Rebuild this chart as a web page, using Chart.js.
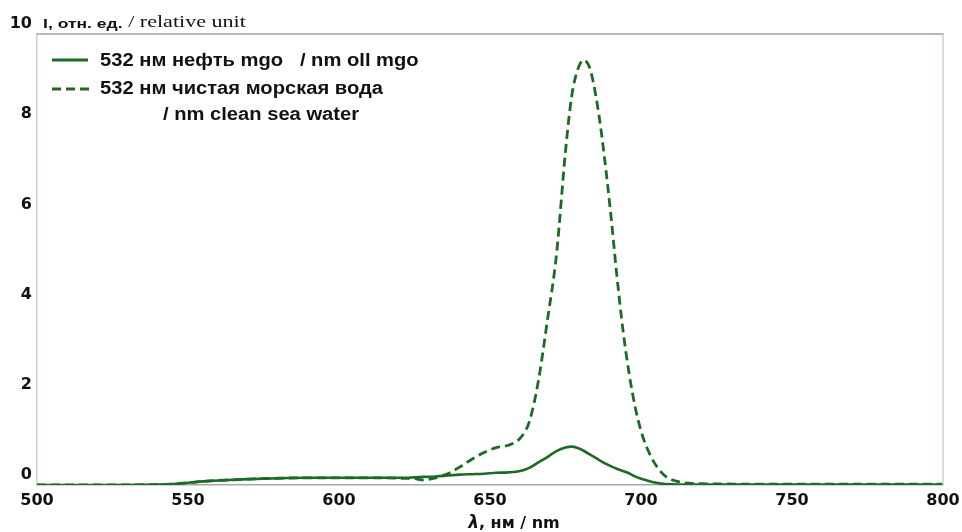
<!DOCTYPE html>
<html>
<head>
<meta charset="utf-8">
<script src="https://cdn.jsdelivr.net/npm/chart.js@4/dist/chart.umd.min.js"></script>
<style>
html,body{margin:0;padding:0;background:#fff;}
#wrap{width:962px;height:532px;position:relative;}
</style>
</head>
<body>
<div id="wrap"><canvas id="c" width="962" height="532"></canvas></div>
<script>
// ---- data ----
const wavelengths = [500,520,540,545,550,555,560,570,580,590,600,610,620,625,628,632,636,640,644,648,652,656,660,663,666,669,672,675,677,679,681,683,685,687,690,692,694,696,698,700,702,705,708,712,716,720,740,760,780,800];
const oilMgo = [0,0,0.01,0.02,0.05,0.08,0.10,0.13,0.15,0.16,0.16,0.16,0.16,0.17,0.18,0.19,0.21,0.23,0.24,0.25,0.27,0.28,0.31,0.38,0.50,0.62,0.75,0.83,0.85,0.82,0.76,0.68,0.60,0.52,0.42,0.36,0.31,0.26,0.19,0.14,0.10,0.05,0.02,0.01,0.01,0.01,0.01,0.01,0.01,0.01];
const cleanSeaWater = [0,0,0.01,0.02,0.05,0.08,0.10,0.13,0.15,0.16,0.16,0.16,0.15,0.14,0.11,0.16,0.25,0.40,0.57,0.72,0.83,0.88,1.04,1.40,2.30,3.65,5.10,7.40,8.60,9.20,9.42,9.25,8.65,7.75,6.00,4.65,3.45,2.50,1.75,1.20,0.82,0.43,0.20,0.08,0.04,0.03,0.02,0.02,0.02,0.02];
const xTicks = [500,550,600,650,700,750,800];
const yTicks = [0,2,4,6,8,10];
const seriesLabels = ["532 нм нефть mgo   / nm oll mgo", "532 нм чистая морская вода", "/ nm clean sea water"];
const xTitle = ["λ", ", нм / nm"];
const yTitle = ["I, отн. ед.", " / relative unit"];

const GREEN = '#1c6b24';

const pts = (ys) => wavelengths.map((x,i)=>({x:x,y:ys[i]}));

function stretchText(ctx, text, x, y, sx){
  ctx.save();
  ctx.translate(x, y);
  ctx.scale(sx, 1);
  ctx.fillText(text, 0, 0);
  const w = ctx.measureText(text).width * sx;
  ctx.restore();
  return w;
}

const decor = {
  id:'decor',
  afterDraw(chart){
    const ctx = chart.ctx, a = chart.chartArea;
    ctx.save();
    // frame top and right
    ctx.strokeStyle = '#a0a0a0'; ctx.lineWidth = 1.5;
    ctx.beginPath(); ctx.moveTo(a.left, a.top); ctx.lineTo(a.right+1, a.top); ctx.stroke();
    ctx.strokeStyle = '#c3dcc3';
    ctx.beginPath(); ctx.moveTo(a.right, a.top); ctx.lineTo(a.right, a.bottom); ctx.stroke();
    // y title
    ctx.fillStyle = '#111'; ctx.textBaseline = 'alphabetic'; ctx.textAlign='left';
    ctx.font = 'bold 13px "Liberation Sans", Arial, sans-serif';
    let w = stretchText(ctx, yTitle[0], 43, 28, 1.35);
    ctx.font = '16px "Liberation Serif", "Times New Roman", serif';
    stretchText(ctx, yTitle[1], 43 + w, 27, 1.38);
    // x title
    ctx.font = 'italic bold 17px "DejaVu Sans", sans-serif';
    const w1 = ctx.measureText(xTitle[0]).width;
    ctx.font = 'bold 16px "DejaVu Sans", sans-serif';
    const w2 = ctx.measureText(xTitle[1]).width;
    let x0 = 514 - (w1+w2)/2;
    ctx.font = 'italic bold 17px "DejaVu Sans", sans-serif';
    ctx.fillText(xTitle[0], x0, 528);
    ctx.font = 'bold 16px "DejaVu Sans", sans-serif';
    ctx.fillText(xTitle[1], x0 + w1, 528);
    // legend
    ctx.strokeStyle = GREEN; ctx.lineWidth = 3;
    ctx.setLineDash([]);
    ctx.beginPath(); ctx.moveTo(52,60); ctx.lineTo(88,60); ctx.stroke();
    ctx.setLineDash([9,5]);
    ctx.beginPath(); ctx.moveTo(52,89); ctx.lineTo(90,89); ctx.stroke();
    ctx.setLineDash([]);
    ctx.fillStyle = '#111'; ctx.textBaseline='middle';
    ctx.font = 'bold 18px "Liberation Sans", Arial, sans-serif';
    stretchText(ctx, seriesLabels[0], 100, 61, 1.12);
    stretchText(ctx, seriesLabels[1], 100, 89, 1.12);
    stretchText(ctx, seriesLabels[2], 163, 115, 1.12);
    ctx.restore();
  }
};

new Chart(document.getElementById('c'), {
  type:'line',
  data:{
    datasets:[
      {label:seriesLabels[0], data:pts(oilMgo), borderColor:GREEN, borderWidth:2.6, pointRadius:0, fill:false, cubicInterpolationMode:'monotone'},
      {label:seriesLabels[1], data:pts(cleanSeaWater), borderColor:GREEN, borderWidth:2.8, borderDash:[9,5], pointRadius:0, fill:false, cubicInterpolationMode:'monotone'}
    ]
  },
  options:{
    responsive:false, animation:false,
    layout:{padding:{top:34,right:19,left:0,bottom:0}},
    plugins:{legend:{display:false}, tooltip:{enabled:false}},
    scales:{
      x:{type:'linear', min:500, max:800,
        afterBuildTicks(s){ s.ticks = xTicks.map(v=>({value:v})); },
        afterFit(s){ s.height = 47; s.paddingRight = 0; s.paddingLeft = 0; },
        grid:{display:false, drawTicks:false},
        border:{display:true, color:'#a8a8a8', width:1.5},
        ticks:{color:'#111', padding:6, font:{family:'"DejaVu Sans", sans-serif', weight:'bold', size:16}, maxRotation:0}
      },
      y:{type:'linear', min:0, max:10,
        afterBuildTicks(s){ s.ticks = yTicks.map(v=>({value:v})); },
        afterFit(s){ s.width = 37; s.paddingTop = 0; s.paddingBottom = 0; },
        grid:{display:false, drawTicks:false},
        border:{display:true, color:'#bcd8bc', width:1.5},
        ticks:{color:'#111', padding:5, labelOffset:-10, font:{family:'"DejaVu Sans", sans-serif', weight:'bold', size:16}}
      }
    }
  },
  plugins:[decor]
});
</script>
</body>
</html>
